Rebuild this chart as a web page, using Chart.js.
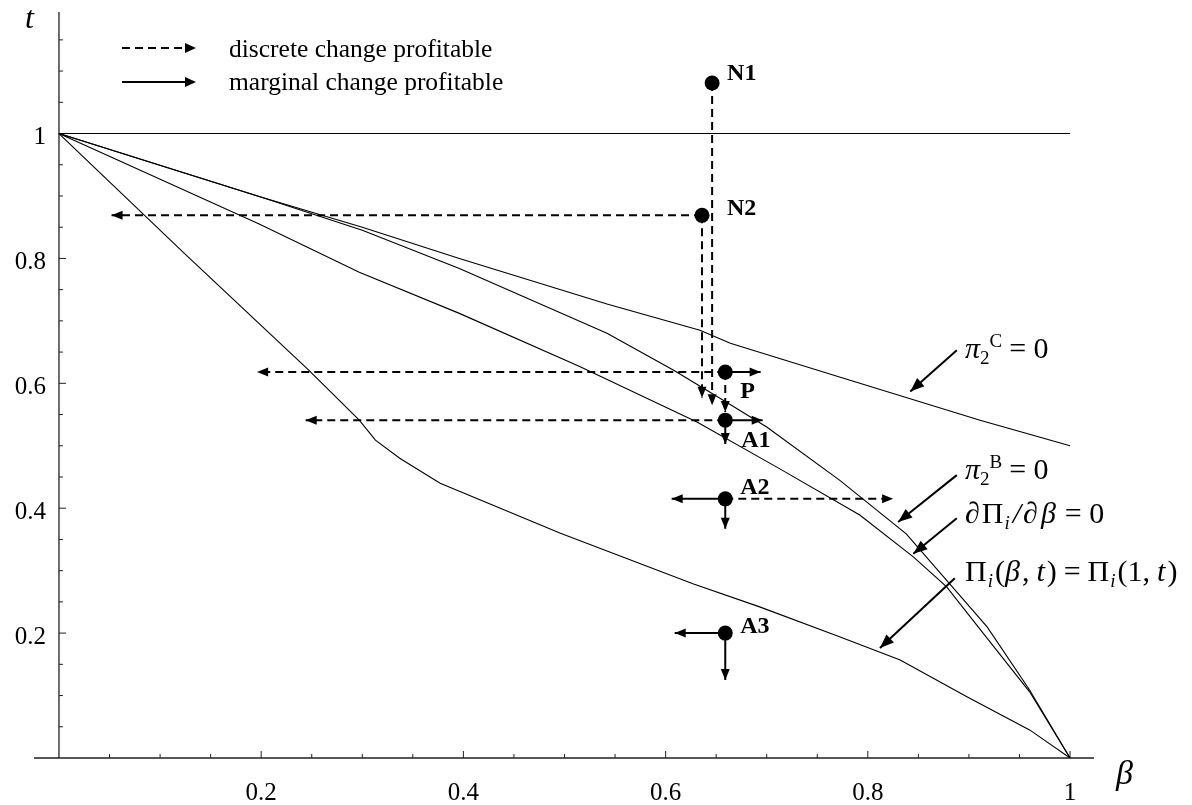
<!DOCTYPE html>
<html>
<head>
<meta charset="utf-8">
<script src="https://cdn.jsdelivr.net/npm/chart.js@4.4.1/dist/chart.umd.min.js"></script>
<style>
  html, body { margin: 0; padding: 0; background: #fff; }
  #wrap { width: 1192px; height: 805px; }
</style>
</head>
<body>
<div id="wrap"><canvas id="chart" width="1192" height="805"></canvas></div>
<script>
// curves (beta, t)
const piCBeta = [0, 0.198, 0.30, 0.396, 0.542, 0.634, 0.664, 0.772, 0.911, 1];
const piCT    = [1, 0.899, 0.85, 0.80, 0.727, 0.685, 0.664, 0.61, 0.541, 0.5];

const piBBeta = [0, 0.198, 0.30, 0.396, 0.542, 0.608, 0.657, 0.70, 0.772, 0.838, 0.918, 0.96, 1];
const piBT    = [1, 0.899, 0.845, 0.784, 0.68, 0.621, 0.573, 0.53, 0.445, 0.359, 0.21, 0.109, 0];

const focBeta = [0, 0.198, 0.297, 0.396, 0.515, 0.631, 0.713, 0.792, 0.845, 0.878, 0.914, 0.96, 1];
const focT    = [1, 0.855, 0.778, 0.712, 0.627, 0.538, 0.463, 0.389, 0.322, 0.274, 0.2, 0.106, 0];

const eqBeta = [0, 0.124, 0.247, 0.297, 0.313, 0.337, 0.377, 0.496, 0.627, 0.693, 0.772, 0.832, 0.898, 0.96, 1];
const eqT    = [1, 0.808, 0.621, 0.541, 0.509, 0.48, 0.44, 0.36, 0.279, 0.242, 0.194, 0.157, 0.098, 0.045, 0];

const oneBeta = [0, 1];
const oneT    = [1, 1];

// equilibrium candidates
const ptNames = ['N1', 'N2', 'P', 'A1', 'A2', 'A3'];
const ptBeta  = [0.646, 0.636, 0.659, 0.659, 0.659, 0.659];
const ptT     = [1.081, 0.869, 0.618, 0.541, 0.415, 0.2];

// arrows: [fromBeta, fromT, toBeta, toT]
const discreteArrows = [
  [0.646, 1.081, 0.646, 0.565],
  [0.636, 0.869, 0.636, 0.577],
  [0.636, 0.869, 0.052, 0.869],
  [0.659, 0.618, 0.196, 0.618],
  [0.659, 0.618, 0.659, 0.554],
  [0.659, 0.541, 0.244, 0.541],
  [0.659, 0.415, 0.825, 0.415]
];
const marginalArrows = [
  [0.659, 0.618, 0.694, 0.618],
  [0.659, 0.541, 0.696, 0.541],
  [0.659, 0.541, 0.659, 0.503],
  [0.659, 0.415, 0.606, 0.415],
  [0.659, 0.415, 0.659, 0.367],
  [0.659, 0.2, 0.609, 0.2],
  [0.659, 0.2, 0.659, 0.125]
];
const pointerArrows = [
  [0.888, 0.653, 0.842, 0.587],
  [0.888, 0.453, 0.830, 0.378],
  [0.888, 0.384, 0.845, 0.327],
  [0.886, 0.288, 0.812, 0.176]
];

const xTickValues = [0.2, 0.4, 0.6, 0.8, 1];
const xTickLabels = ['0.2', '0.4', '0.6', '0.8', '1'];
const yTickValues = [0.2, 0.4, 0.6, 0.8, 1];
const yTickLabels = ['0.2', '0.4', '0.6', '0.8', '1'];

const SERIF = '"Liberation Serif", "Times New Roman", serif';

function xy(bs, ts) { return bs.map((b, i) => ({ x: b, y: ts[i] })); }

function curve(bs, ts) {
  return { data: xy(bs, ts), showLine: true, borderColor: '#000', borderWidth: 1.1,
           pointRadius: 0, tension: 0, fill: false };
}
function arrowSet(a, dashed) {
  return { data: [{ x: a[0], y: a[1] }, { x: a[2], y: a[3] }], showLine: true,
           borderColor: '#000', borderWidth: 2, borderDash: dashed ? [8, 5] : [],
           pointRadius: 0, arrow: { len: 11, half: 4.5 } };
}
function pointerSet(a) {
  return { data: [{ x: a[0], y: a[1] }, { x: a[2], y: a[3] }], showLine: true,
           borderColor: '#000', borderWidth: 2, pointRadius: 0, arrow: { len: 14, half: 5.5 } };
}

const datasets = [
  { data: xy(ptBeta, ptT), pointRadius: 7.5, pointBackgroundColor: '#000', pointBorderWidth: 0, showLine: false }
];
discreteArrows.forEach(a => datasets.push(arrowSet(a, true)));
marginalArrows.forEach(a => datasets.push(arrowSet(a, false)));
pointerArrows.forEach(a => datasets.push(pointerSet(a)));
datasets.push(curve(oneBeta, oneT));
datasets.push(curve(piCBeta, piCT));
datasets.push(curve(piBBeta, piBT));
datasets.push(curve(focBeta, focT));
datasets.push(curve(eqBeta, eqT));

function drawRich(ctx, x, y, parts) {
  let cx = x;
  parts.forEach(p => {
    ctx.font = p.font;
    cx += (p.pre || 0);
    ctx.fillText(p.text, cx, y + (p.dy || 0));
    cx += ctx.measureText(p.text).width;
  });
}

function head(ctx, x, y, ang, len, half) {
  ctx.save();
  ctx.translate(x, y); ctx.rotate(ang);
  ctx.beginPath(); ctx.moveTo(0, 0); ctx.lineTo(-len, -half); ctx.lineTo(-len, half); ctx.closePath();
  ctx.fillStyle = '#000'; ctx.fill();
  ctx.restore();
}

const axesPlugin = {
  id: 'axesPlugin',
  beforeDatasetsDraw(chart) {
    const { ctx, chartArea, scales: { x, y } } = chart;
    const x0 = x.getPixelForValue(0), y0 = y.getPixelForValue(0);
    ctx.save();
    ctx.strokeStyle = '#222';
    ctx.lineWidth = 1.3;
    ctx.beginPath();
    ctx.moveTo(chartArea.left, y0); ctx.lineTo(chartArea.right, y0);
    ctx.moveTo(x0, chartArea.top); ctx.lineTo(x0, y0);
    ctx.stroke();
    ctx.lineWidth = 1;
    ctx.beginPath();
    for (let k = 1; k <= 20; k++) {
      const px = x.getPixelForValue(k * 0.05);
      const len = (k % 4 === 0) ? 7 : 4;
      ctx.moveTo(px, y0); ctx.lineTo(px, y0 - len);
    }
    for (let k = 1; k <= 23; k++) {
      const py = y.getPixelForValue(k * 0.05);
      const len = (k % 4 === 0) ? 7 : 4;
      ctx.moveTo(x0, py); ctx.lineTo(x0 + len, py);
    }
    ctx.stroke();
    ctx.fillStyle = '#000';
    ctx.font = '25px ' + SERIF;
    ctx.textBaseline = 'middle';
    ctx.textAlign = 'center';
    xTickValues.forEach((v, i) => ctx.fillText(xTickLabels[i], x.getPixelForValue(v), y0 + 35));
    ctx.textAlign = 'right';
    yTickValues.forEach((v, i) => ctx.fillText(yTickLabels[i], 46, y.getPixelForValue(v) + 4));
    ctx.textAlign = 'left';
    ctx.textBaseline = 'alphabetic';
    ctx.font = 'italic 32px ' + SERIF;
    ctx.fillText('t', 25, 28);
    ctx.font = 'italic 34px ' + SERIF;
    ctx.fillText('β', 1116, 784);
    ctx.restore();
  },
  afterDatasetsDraw(chart) {
    const { ctx, scales: { x, y } } = chart;
    ctx.save();
    // arrow heads on the arrow datasets
    chart.data.datasets.forEach((ds, i) => {
      if (!ds.arrow) return;
      const pts = chart.getDatasetMeta(i).data;
      const a = pts[0], b = pts[pts.length - 1];
      head(ctx, b.x, b.y, Math.atan2(b.y - a.y, b.x - a.x), ds.arrow.len, ds.arrow.half);
    });
    // legend
    ctx.strokeStyle = '#000'; ctx.lineWidth = 2;
    ctx.setLineDash([8, 5]);
    ctx.beginPath(); ctx.moveTo(122, 48); ctx.lineTo(186, 48); ctx.stroke();
    ctx.setLineDash([]);
    ctx.beginPath(); ctx.moveTo(122, 82); ctx.lineTo(186, 82); ctx.stroke();
    head(ctx, 196, 48, 0, 11, 5);
    head(ctx, 196, 82, 0, 11, 5);
    ctx.fillStyle = '#000';
    ctx.font = '25.5px ' + SERIF;
    ctx.fillText('discrete change profitable', 229, 57);
    ctx.fillText('marginal change profitable', 229, 90);
    // point labels
    const offs = [[15, -3], [25, 0], [15, 26], [16, 27], [15, -5], [15, 0]];
    ctx.font = 'bold 24px ' + SERIF;
    ptNames.forEach((n, i) => {
      const px = x.getPixelForValue(ptBeta[i]), py = y.getPixelForValue(ptT[i]);
      ctx.fillText(n, px + offs[i][0], py + offs[i][1]);
    });
    // curve labels
    const R = '30px ' + SERIF, I = 'italic 30px ' + SERIF, S = '19px ' + SERIF, SI = 'italic 19px ' + SERIF;
    drawRich(ctx, 965, 358, [
      { text: 'π', font: I }, { text: '2', font: S, dy: 6 }, { text: 'C', font: S, dy: -11 },
      { text: '= 0', font: R, pre: 7 }]);
    drawRich(ctx, 965, 479, [
      { text: 'π', font: I }, { text: '2', font: S, dy: 6 }, { text: 'B', font: S, dy: -11 },
      { text: '= 0', font: R, pre: 7 }]);
    drawRich(ctx, 965, 523, [
      { text: '∂', font: I }, { text: 'Π', font: R, pre: 2 }, { text: 'i', font: SI, dy: 6, pre: 1 },
      { text: '/', font: I, pre: 3 }, { text: '∂', font: I, pre: 2 }, { text: 'β', font: I, pre: 3 },
      { text: '= 0', font: R, pre: 9 }]);
    drawRich(ctx, 965, 581, [
      { text: 'Π', font: R }, { text: 'i', font: SI, dy: 6, pre: 1 }, { text: '(', font: R, pre: 2 },
      { text: 'β', font: I }, { text: ',', font: R, pre: 2 }, { text: 't', font: I, pre: 7 },
      { text: ')', font: R, pre: 2 }, { text: '=', font: R, pre: 7 }, { text: 'Π', font: R, pre: 7 },
      { text: 'i', font: SI, dy: 6, pre: 1 }, { text: '(1,', font: R, pre: 2 }, { text: 't', font: I, pre: 7 },
      { text: ')', font: R, pre: 2 }]);
    ctx.restore();
  }
};

new Chart(document.getElementById('chart'), {
  type: 'scatter',
  data: { datasets },
  options: {
    responsive: false,
    animation: false,
    devicePixelRatio: 1,
    layout: { padding: { left: 34, right: 98, top: 12, bottom: 47 } },
    plugins: { legend: { display: false }, tooltip: { enabled: false } },
    elements: { line: { borderCapStyle: 'butt' } },
    scales: {
      x: { type: 'linear', min: -0.0247, max: 1.0237, display: false },
      y: { type: 'linear', min: 0, max: 1.1946, display: false }
    }
  },
  plugins: [axesPlugin]
});
</script>
</body>
</html>
